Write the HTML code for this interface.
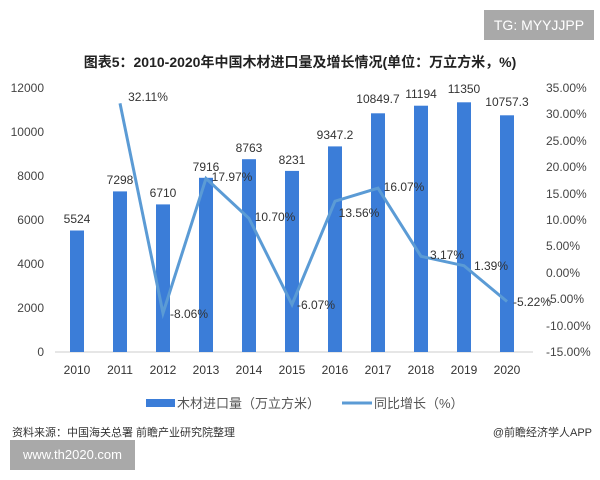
<html><body style="margin:0;width:600px;height:480px;background:#fff;position:relative;font-family:'Liberation Sans','Noto Sans CJK SC',sans-serif;overflow:hidden">
<div style="position:absolute;left:484px;top:10px;width:110px;height:30px;background:#a9a9a9;color:#fff;font-size:14px;line-height:30px;text-align:center">TG: MYYJJPP</div>
<div style="position:absolute;left:0;width:600px;top:52px;text-align:center;font-size:14px;font-weight:bold;color:#222">图表5：2010-2020年中国木材进口量及增长情况(单位：万立方米，%)</div>
<svg width="600" height="480" style="position:absolute;left:0;top:0" font-family="Liberation Sans, Noto Sans CJK SC, sans-serif">
<g font-size="12" fill="#444" text-anchor="end">
<text x="44" y="92">12000</text><text x="44" y="136">10000</text><text x="44" y="180">8000</text><text x="44" y="224">6000</text><text x="44" y="268">4000</text><text x="44" y="312">2000</text><text x="44" y="356">0</text>
</g>
<g font-size="12" fill="#444" text-anchor="start">
<text x="546" y="92">35.00%</text><text x="546" y="118">30.00%</text><text x="546" y="145">25.00%</text><text x="546" y="171">20.00%</text><text x="546" y="198">15.00%</text><text x="546" y="224">10.00%</text><text x="546" y="250">5.00%</text><text x="546" y="277">0.00%</text><text x="546" y="303">-5.00%</text><text x="546" y="330">-10.00%</text><text x="546" y="356">-15.00%</text>
</g>
<line x1="55" y1="352" x2="533" y2="352" stroke="#ccc"/>
<g fill="#3b7dd8">
<rect x="70" y="230.5" width="14" height="121.5"/>
<rect x="113" y="191.4" width="14" height="160.6"/>
<rect x="156" y="204.4" width="14" height="147.6"/>
<rect x="199" y="177.8" width="14" height="174.2"/>
<rect x="242" y="159.2" width="14" height="192.8"/>
<rect x="285" y="170.9" width="14" height="181.1"/>
<rect x="328" y="146.4" width="14" height="205.6"/>
<rect x="371" y="113.3" width="14" height="238.7"/>
<rect x="414" y="105.7" width="14" height="246.3"/>
<rect x="457" y="102.3" width="14" height="249.7"/>
<rect x="500" y="115.3" width="14" height="236.7"/>
</g>
<polyline fill="none" stroke="#5b9bd5" stroke-width="3" points="120,103.3 163,313.2 206,178.4 249,218.4 292,304.5 335,201.2 378,188.2 421,256.3 464,265.7 507,301.5"/>
<g font-size="12" fill="#333" text-anchor="middle">
<text x="77" y="223">5524</text><text x="120" y="184">7298</text><text x="163" y="197">6710</text><text x="206" y="171">7916</text><text x="249" y="152">8763</text><text x="292" y="164">8231</text><text x="335" y="139">9347.2</text><text x="378" y="103">10849.7</text><text x="421" y="98">11194</text><text x="464" y="93">11350</text><text x="507" y="106">10757.3</text>
<text x="148" y="101">32.11%</text><text x="189" y="318">-8.06%</text><text x="232" y="181">17.97%</text><text x="275" y="221">10.70%</text><text x="316" y="309">-6.07%</text><text x="359" y="217">13.56%</text><text x="404" y="191">16.07%</text><text x="447" y="259">3.17%</text><text x="491" y="270">1.39%</text><text x="532" y="306">-5.22%</text>
<text x="77" y="374">2010</text><text x="120" y="374">2011</text><text x="163" y="374">2012</text><text x="206" y="374">2013</text><text x="249" y="374">2014</text><text x="292" y="374">2015</text><text x="335" y="374">2016</text><text x="378" y="374">2017</text><text x="421" y="374">2018</text><text x="464" y="374">2019</text><text x="507" y="374">2020</text>
</g>
<rect x="146" y="399" width="29" height="8" fill="#3b7dd8"/>
<text x="177" y="408" font-size="13" fill="#555">木材进口量（万立方米）</text>
<line x1="342" y1="403" x2="372" y2="403" stroke="#5b9bd5" stroke-width="3"/>
<text x="374" y="408" font-size="13" fill="#555">同比增长（%）</text>
<text x="12" y="436" font-size="11" fill="#333">资料来源：中国海关总署 前瞻产业研究院整理</text>
<text x="592" y="436" font-size="11" fill="#333" text-anchor="end">@前瞻经济学人APP</text>
</svg>
<div style="position:absolute;left:10px;top:440px;width:125px;height:30px;background:#a9a9a9;color:#fff;font-size:13px;line-height:30px;text-align:center">www.th2020.com</div>
</body></html>
